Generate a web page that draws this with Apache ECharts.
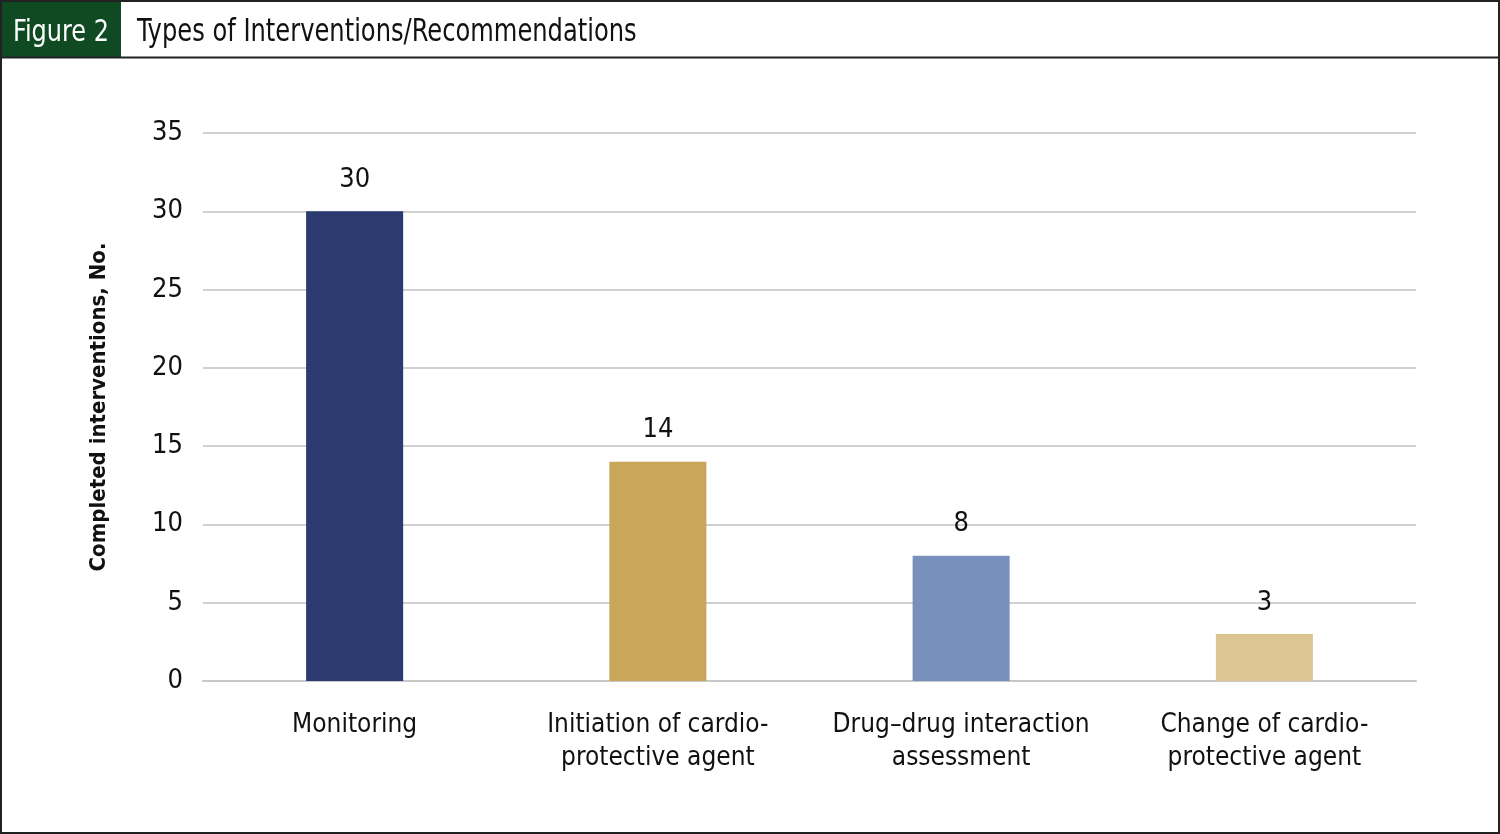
<!DOCTYPE html>
<html><head><meta charset="utf-8">
<script src="https://cdn.jsdelivr.net/npm/echarts@6/dist/echarts.min.js"></script>
<style>html,body{margin:0;padding:0;background:#fff}#c{width:1500px;height:834px}</style>
</head><body><div id="c"></div>
<script>
const categories = ['Monitoring', 'Initiation of cardio-\nprotective agent', 'Drug\u2013drug interaction\nassessment', 'Change of cardio-\nprotective agent'];
const values = [30, 14, 8, 3];
const barColors = ['#2B3A70', '#C9A65A', '#7890BC', '#DCC591'];
const yTicks = [0, 5, 10, 15, 20, 25, 30, 35];
const FONT = '"Liberation Sans Narrow", "DejaVu Sans Condensed", "Roboto Condensed", sans-serif';

const chart = echarts.init(document.getElementById('c'), null, {renderer: 'canvas'});
chart.setOption({
  animation: false,
  textStyle: {fontFamily: FONT},
  graphic: [
    {type: 'rect', shape: {x: 1, y: 1, width: 1498, height: 832}, style: {fill: 'none', stroke: '#222', lineWidth: 2}, z: 10},
    {type: 'rect', shape: {x: 0, y: 0, width: 121, height: 57}, style: {fill: '#0F4A23'}, z: 5},
    {type: 'line', shape: {x1: 0, y1: 57.5, x2: 1500, y2: 57.5}, style: {stroke: '#222', lineWidth: 2}, z: 10},
    {type: 'text', x: 61, y: 33, scaleX: 0.86, style: {text: 'Figure 2', fill: '#fff', font: '31px ' + FONT, align: 'center', verticalAlign: 'middle'}, z: 11},
    {type: 'text', x: 137, y: 33, scaleX: 0.84, style: {text: 'Types of Interventions/Recommendations', fill: '#111', font: '32px ' + FONT, align: 'left', verticalAlign: 'middle'}, z: 11}
  ],
  grid: {left: 203, right: 84, top: 133, bottom: 153, containLabel: false},
  xAxis: {
    type: 'category',
    data: categories,
    axisLine: {show: true, lineStyle: {color: '#c8c8c8', width: 2}},
    axisTick: {show: false},
    axisLabel: {color: '#111', fontSize: 26, lineHeight: 33, margin: 28, fontFamily: FONT, interval: 0}
  },
  yAxis: {
    type: 'value',
    min: yTicks[0], max: yTicks[yTicks.length - 1], interval: 5,
    name: 'Completed interventions, No.',
    nameLocation: 'middle',
    nameGap: 93,
    nameTextStyle: {color: '#111', fontSize: 22, fontWeight: 'bold', fontFamily: FONT},
    axisLine: {show: false},
    axisTick: {show: false},
    splitLine: {lineStyle: {color: '#d0d0d0', width: 2}},
    axisLabel: {color: '#111', fontSize: 27, margin: 20, padding: [6, 0, 0, 0], fontFamily: FONT}
  },
  series: [{
    type: 'bar',
    barWidth: '32%',
    data: values.map((v, i) => ({value: v, itemStyle: {color: barColors[i]}})),
    label: {show: true, position: 'top', distance: 18, color: '#111', fontSize: 27, fontFamily: FONT}
  }]
});
</script></body></html>
